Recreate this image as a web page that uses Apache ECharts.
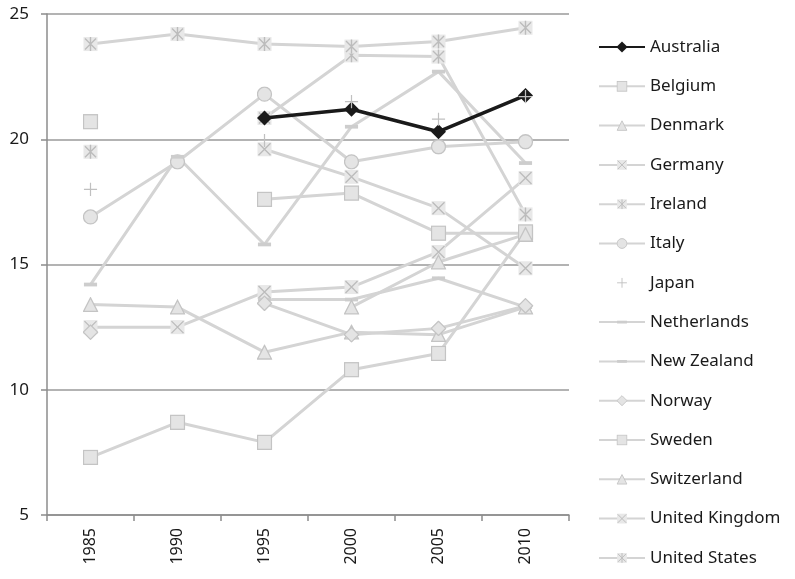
<!DOCTYPE html>
<html>
<head>
<meta charset="utf-8">
<script src="https://cdn.jsdelivr.net/npm/echarts@6/dist/echarts.min.js"></script>
<style>html,body{margin:0;padding:0;background:#fff;}#c{width:795px;height:579px;}</style>
</head>
<body>
<div id="c"></div>
<script>
const years = ['1985','1990','1995','2000','2005','2010'];
const yTicks = [5, 10, 15, 20, 25];

const australia   = [null, null, 20.85, 21.2, 20.3, 21.75];
const belgium     = [20.7, null, 17.6, 17.85, 16.25, 16.25];
const denmark     = [13.4, 13.3, 11.5, 12.3, 12.2, 13.3];
const germany     = [12.5, 12.5, 13.9, 14.1, 15.5, 18.45];
const ireland     = [19.5, null, 20.85, 23.35, 23.3, 17.0];
const italy       = [16.9, 19.1, 21.8, 19.1, 19.7, 19.9];
const japan       = [18.0, null, 19.95, 21.5, 20.8, 21.7];
const netherlands = [14.2, 19.3, 15.8, 20.5, 22.7, 19.05];
const newZealand  = [null, null, 13.6, 13.6, 14.45, 13.3];
const norway      = [12.3, null, 13.45, 12.2, 12.45, 13.35];
const sweden      = [7.3, 8.7, 7.9, 10.8, 11.45, 16.3];
const switzerland = [null, null, null, 13.3, 15.1, 16.2];
const unitedKingdom = [null, null, 19.6, 18.5, 17.25, 14.85];
const unitedStates  = [23.8, 24.2, 23.8, 23.7, 23.9, 24.45];

const FILL = '#e4e4e4', STROKE = '#c4c4c4', LINE = '#d4d4d4';
function svg(inner) {
  return 'image://data:image/svg+xml;charset=utf-8,' + encodeURIComponent(
    '<svg xmlns="http://www.w3.org/2000/svg" width="32" height="32" viewBox="0 0 16 16">' + inner + '</svg>');
}
const S = {
  square: svg(`<rect x="1" y="1" width="14" height="14" fill="${FILL}" stroke="${STROKE}" stroke-width="1.3"/>`),
  triangle: svg(`<polygon points="8,1.2 15,14.8 1,14.8" fill="${FILL}" stroke="${STROKE}" stroke-width="1.3"/>`),
  circle: svg(`<circle cx="8" cy="8" r="7" fill="${FILL}" stroke="${STROKE}" stroke-width="1.3"/>`),
  diamond: svg(`<polygon points="8,0.8 15.2,8 8,15.2 0.8,8" fill="${FILL}" stroke="${STROKE}" stroke-width="1.3"/>`),
  xbox: svg(`<rect x="1" y="1" width="14" height="14" fill="#e8e8e8"/><path d="M2,2L14,14M14,2L2,14" stroke="#bcbcbc" stroke-width="1.4" fill="none"/>`),
  star: svg(`<rect x="1" y="1" width="14" height="14" fill="#e8e8e8"/><path d="M2.5,2.5L13.5,13.5M13.5,2.5L2.5,13.5M8,1L8,15" stroke="#bcbcbc" stroke-width="1.4" fill="none"/>`),
  plus: svg(`<path d="M8,1V15M1,8H15" stroke="#c0c0c0" stroke-width="1.3" fill="none"/>`),
  dash: svg(`<rect x="1" y="6" width="14" height="4" fill="#cdcdcd"/>`)
};

function grey(name, data, symbol, size, opts) {
  return Object.assign({
    name: name, type: 'line', data: data, symbol: symbol, symbolSize: size || 16,
    showSymbol: true, showAllSymbol: true, connectNulls: false, z: 2,
    lineStyle: { color: LINE, width: 3 },
    itemStyle: { color: LINE },
    emphasis: { disabled: true }, animation: false
  }, opts || {});
}

const series = [
  { name: 'Australia', type: 'line', data: australia, symbol: 'diamond', symbolSize: 15,
    showSymbol: true, z: 5, lineStyle: { color: '#1a1a1a', width: 3.5 },
    itemStyle: { color: '#1a1a1a' }, emphasis: { disabled: true }, animation: false },
  grey('Belgium', belgium, S.square),
  grey('Denmark', denmark, S.triangle),
  grey('Germany', germany, S.xbox),
  grey('Ireland', ireland, S.star),
  grey('Italy', italy, S.circle),
  grey('Japan', japan, S.plus, 15, { z: 6, lineStyle: { width: 0, opacity: 0, color: LINE } }),
  grey('Netherlands', netherlands, S.dash, 15),
  grey('New Zealand', newZealand, S.dash, 15),
  grey('Norway', norway, S.diamond),
  grey('Sweden', sweden, S.square),
  grey('Switzerland', switzerland, S.triangle),
  grey('United Kingdom', unitedKingdom, S.xbox),
  grey('United States', unitedStates, S.star)
];

const FONT = 'Noto Sans';
const chart = echarts.init(document.getElementById('c'), null, { renderer: 'canvas' });
chart.setOption({
  backgroundColor: '#ffffff',
  animation: false,
  textStyle: { fontFamily: FONT },
  grid: { left: 47, right: 226, top: 14, bottom: 64, containLabel: false },
  xAxis: {
    type: 'category', data: years, boundaryGap: true,
    axisLine: { show: true, lineStyle: { color: '#8c8c8c', width: 1.5 } },
    axisTick: { show: true, alignWithLabel: false, length: 6, lineStyle: { color: '#8c8c8c', width: 1.5 } },
    axisLabel: { rotate: 90, margin: 13, fontSize: 16, color: '#1a1a1a', fontFamily: FONT },
    splitLine: { show: false }
  },
  yAxis: {
    type: 'value', min: 5, max: 25, interval: 5,
    axisLine: { show: true, lineStyle: { color: '#8c8c8c', width: 1.5 } },
    axisTick: { show: true, length: 6, lineStyle: { color: '#8c8c8c', width: 1.5 } },
    axisLabel: { margin: 18, fontSize: 17, color: '#1a1a1a', fontFamily: FONT,
      formatter: function (v) { return yTicks.indexOf(v) >= 0 ? String(v) : ''; } },
    splitLine: { show: true, lineStyle: { color: '#9a9a9a', width: 1.5 } }
  },
  legend: {
    orient: 'vertical', left: 598, top: 38.5, padding: 0,
    itemWidth: 46, itemHeight: 14, itemGap: 22.3,
    selectedMode: false,
    textStyle: { fontSize: 17, color: '#1a1a1a', fontFamily: FONT },
    data: series.map(s => s.name)
  },
  series: series
});
</script>
</body>
</html>
